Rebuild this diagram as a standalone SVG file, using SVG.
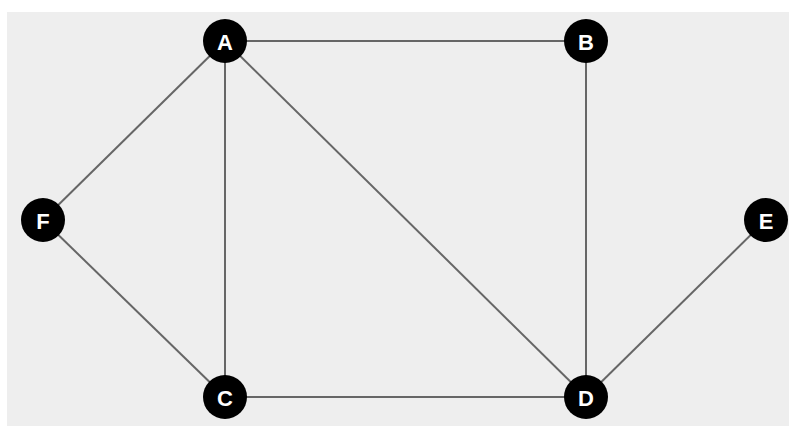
<svg xmlns="http://www.w3.org/2000/svg" width="789" height="426" viewBox="0 0 789 426">
<style>
.edge{stroke:#666666;stroke-width:2;fill:none}
.node circle{fill:#000}
.node text{fill:#fff;font-family:"Liberation Sans",Arial,sans-serif;font-weight:bold;font-size:22px;text-anchor:middle;dominant-baseline:central}
</style>
<rect x="7" y="12" width="782" height="414" fill="#eeeeee"/>
<g id="connectors">
<line class="edge" x1="225" y1="41" x2="586" y2="41"/>
<line class="edge" x1="225" y1="41" x2="43" y2="220"/>
<line class="edge" x1="225" y1="41" x2="225" y2="397"/>
<line class="edge" x1="225" y1="41" x2="586" y2="397"/>
<line class="edge" x1="586" y1="41" x2="586" y2="397"/>
<line class="edge" x1="43" y1="220" x2="225" y2="397"/>
<line class="edge" x1="225" y1="397" x2="586" y2="397"/>
<line class="edge" x1="766" y1="220" x2="586" y2="397"/>
</g>
<g id="node-A" class="node"><circle cx="225" cy="41" r="22"/><text x="225" y="42">A</text></g>
<g id="node-B" class="node"><circle cx="586" cy="41" r="22"/><text x="586" y="42">B</text></g>
<g id="node-F" class="node"><circle cx="43" cy="220" r="22"/><text x="43" y="221">F</text></g>
<g id="node-E" class="node"><circle cx="766" cy="220" r="22"/><text x="766" y="221">E</text></g>
<g id="node-C" class="node"><circle cx="225" cy="397" r="22"/><text x="225" y="398">C</text></g>
<g id="node-D" class="node"><circle cx="586" cy="397" r="22"/><text x="586" y="398">D</text></g>
</svg>
